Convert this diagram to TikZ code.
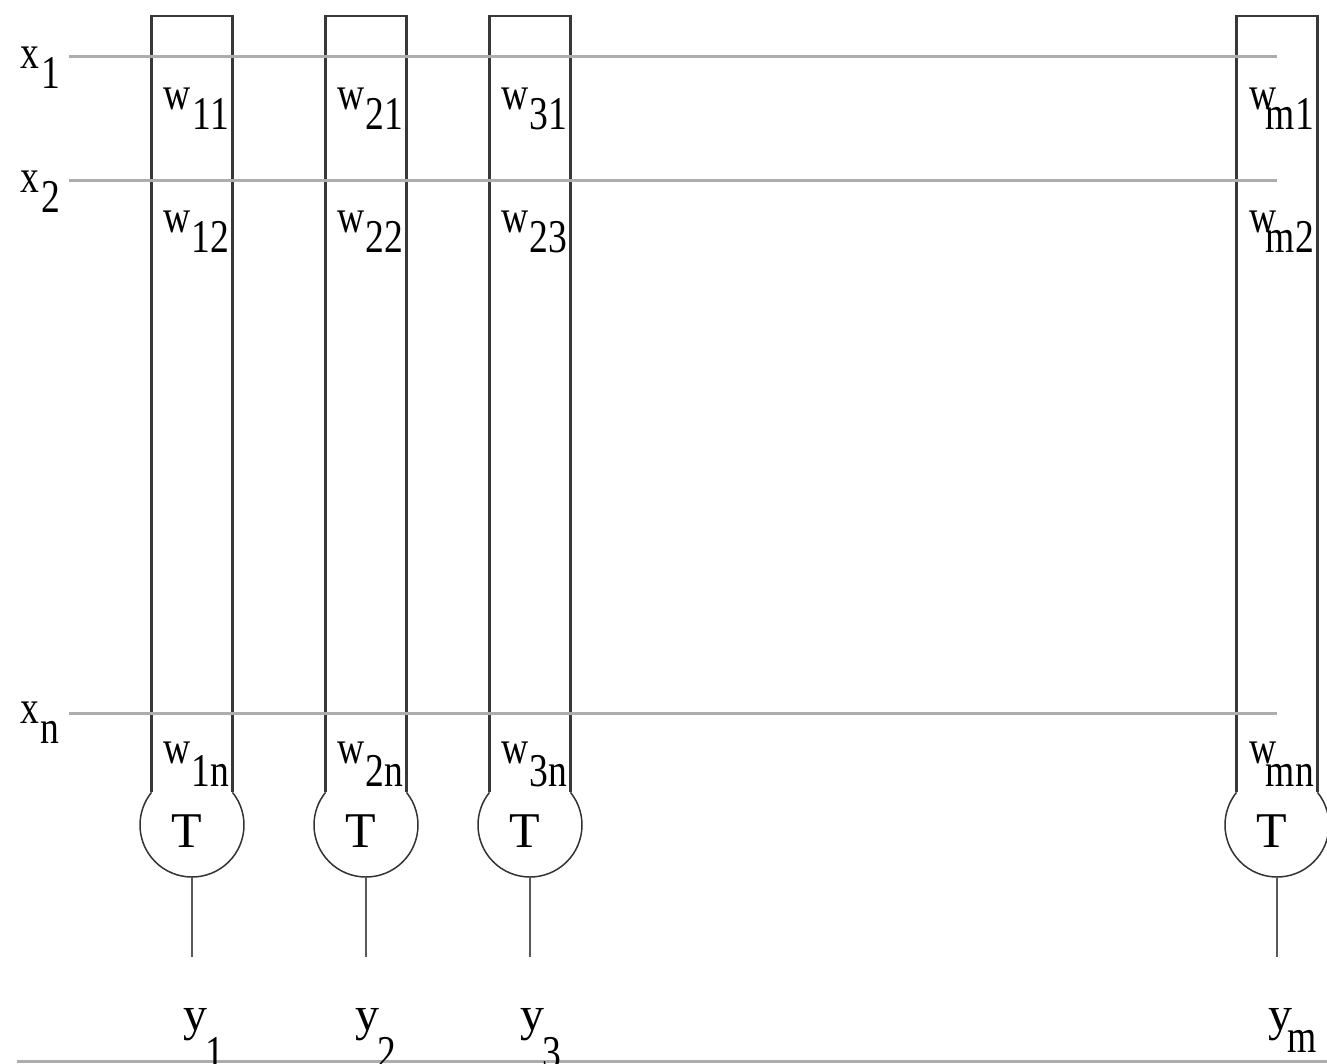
\documentclass[tikz,border=0pt]{standalone}
\usepackage{fontspec}
\setmainfont[FakeStretch=0.8]{Liberation Serif}
\newfontfamily\wideserif{Liberation Serif}
\begin{document}
\begin{tikzpicture}[x=1pt,y=-1pt,
  colbox/.style={draw=black!78,line width=2.2pt},
  ring/.style={draw=black!80,line width=1.5pt},
  hline/.style={draw=black!32,line width=3pt},
  outln/.style={draw=black!65,line width=2.2pt},
  lbl/.style={inner sep=0pt,outer sep=0pt,font=\fontsize{47}{56}\selectfont},
  wlbl/.style={inner sep=0pt,outer sep=0pt,font=\wideserif\fontsize{48}{56}\selectfont},
  tlbl/.style={inner sep=0pt,outer sep=0pt,font=\wideserif\fontsize{50}{58}\selectfont},
  tcirc/.style={circle,minimum size=104pt,inner sep=0pt,draw=none}]
\useasboundingbox (0,0) rectangle (1327,1064);
\clip (0,0) rectangle (1327,1064);
\fill[white] (0,0) rectangle (1327,1064);

% columns: rectangle sides + bottom arc
\foreach \L/\R in {151.5/232.5, 325.5/406.5, 489.5/570.5, 1236.5/1317.5}{
  \draw[colbox] (\L,792.4) -- (\L,16) -- (\R,16) -- (\R,792.4);
  \draw[ring] (\R,792.4) arc[start angle=38.84,end angle=-218.84,radius=52pt];
}

% threshold units
\node[tcirc] (T1) at (192,825) {};
\node[tcirc] (T2) at (366,825) {};
\node[tcirc] (T3) at (530,825) {};
\node[tcirc] (Tm) at (1277,825) {};
\node[tlbl,anchor=base] (T1t) at (187,847) {T};
\node[tlbl,anchor=base] (T2t) at (361,847) {T};
\node[tlbl,anchor=base] (T3t) at (525,847) {T};
\node[tlbl,anchor=base] (Tmt) at (1272,847) {T};

% outputs
\coordinate (o1) at (192,957);
\coordinate (o2) at (366,957);
\coordinate (o3) at (530,957);
\coordinate (om) at (1277,957);
\draw[outln] (T1.south) -- (o1);
\draw[outln] (T2.south) -- (o2);
\draw[outln] (T3.south) -- (o3);
\draw[outln] (Tm.south) -- (om);

% input lines
\coordinate (h1a) at (69,57);    \coordinate (h1b) at (1277,57);
\coordinate (h2a) at (69,180.5); \coordinate (h2b) at (1277,180.5);
\coordinate (hna) at (69,713);   \coordinate (hnb) at (1277,713);
\draw[hline] (h1a) -- (h1b);
\draw[hline] (h2a) -- (h2b);
\draw[hline] (hna) -- (hnb);

% bottom line
\coordinate (ba) at (17,1061.5); \coordinate (bb) at (1327,1061.5);
\draw[hline,line width=3.2pt] (ba) -- (bb);

% input labels
\node[lbl,anchor=base west] (x1) at (20,69) {x};
\node[lbl,anchor=base west] (x1s) at (41,89) {1};
\node[lbl,anchor=base west] (x2) at (20,192.5) {x};
\node[lbl,anchor=base west] (x2s) at (41,212.5) {2};
\node[lbl,anchor=base west] (xn) at (20,723) {x};
\node[lbl,anchor=base west] (xns) at (40,743) {n};

% weights, column 1
\node[lbl,anchor=base west] (w11) at (163,110) {w};
\node[lbl,anchor=base east] (w11s) at (229,130) {11};
\node[lbl,anchor=base west] (w12) at (163,233) {w};
\node[lbl,anchor=base east] (w12s) at (229,253) {12};
\node[lbl,anchor=base west] (w1n) at (163,763) {w};
\node[lbl,anchor=base east] (w1ns) at (229,786) {1n};
% column 2
\node[lbl,anchor=base west] (w21) at (337,110) {w};
\node[lbl,anchor=base east] (w21s) at (403,130) {21};
\node[lbl,anchor=base west] (w22) at (337,233) {w};
\node[lbl,anchor=base east] (w22s) at (403,253) {22};
\node[lbl,anchor=base west] (w2n) at (337,763) {w};
\node[lbl,anchor=base east] (w2ns) at (403,786) {2n};
% column 3
\node[lbl,anchor=base west] (w31) at (501,110) {w};
\node[lbl,anchor=base east] (w31s) at (567,130) {31};
\node[lbl,anchor=base west] (w32) at (501,233) {w};
\node[lbl,anchor=base east] (w32s) at (567,253) {23};
\node[lbl,anchor=base west] (w3n) at (501,763) {w};
\node[lbl,anchor=base east] (w3ns) at (567,786) {3n};
% column m
\node[lbl,anchor=base west] (wm1) at (1249,110) {w};
\node[lbl,anchor=base east] (wm1s) at (1314,130) {m1};
\node[lbl,anchor=base west] (wm2) at (1249,233) {w};
\node[lbl,anchor=base east] (wm2s) at (1314,253) {m2};
\node[lbl,anchor=base west] (wmn) at (1249,763) {w};
\node[lbl,anchor=base east] (wmns) at (1314,786) {mn};

% output labels
\node[wlbl,anchor=base west] (y1) at (183,1030) {y};
\node[lbl,anchor=base west] (y1s) at (205,1068) {1};
\node[wlbl,anchor=base west] (y2) at (355,1030) {y};
\node[lbl,anchor=base west] (y2s) at (377,1068) {2};
\node[wlbl,anchor=base west] (y3) at (520,1030) {y};
\node[lbl,anchor=base west] (y3s) at (542,1068) {3};
\node[wlbl,anchor=base west] (ym) at (1268,1030) {y};
\node[lbl,anchor=base west] (yms) at (1287,1052) {m};
\end{tikzpicture}
\end{document}
